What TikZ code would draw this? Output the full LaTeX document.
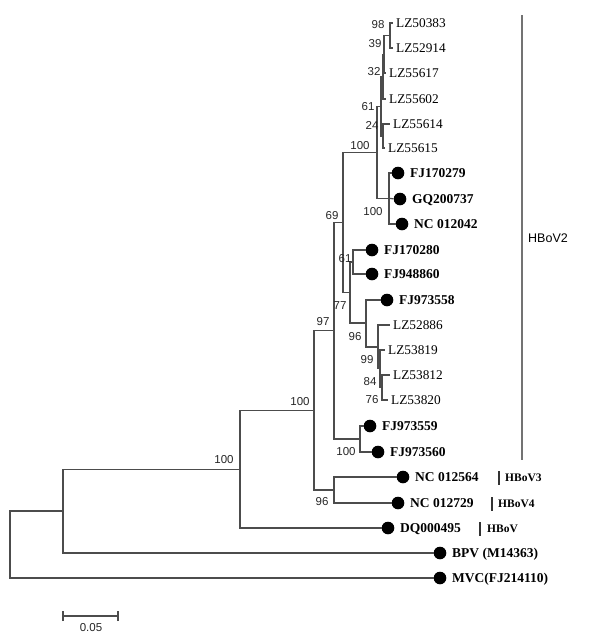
\documentclass[tikz,border=0pt]{standalone}
\usepackage{fontspec}
\setmainfont{Liberation Serif}
\setsansfont{Liberation Sans}
\begin{document}
\begin{tikzpicture}[x=1pt,y=-1pt,
  br/.style={draw=black!70, line width=1.25pt},
  bs/.style={font=\sffamily\fontsize{11.5}{13}\selectfont, inner sep=0pt, text=black!85},
  lz/.style={font=\fontsize{13.3}{15}\selectfont, anchor=west, inner ysep=0pt, inner xsep=3pt, text height=8.8pt, text depth=0pt},
  bl/.style={font=\bfseries\fontsize{13.5}{15}\selectfont, anchor=west, inner sep=0pt, text height=9pt, text depth=0pt},
  dotleaf/.style={circle, fill=black, inner sep=0pt, minimum size=12.6pt},
  grpbar/.style={draw=black!55, line width=1.8pt},
  smallbar/.style={draw=black!80, line width=1.1pt},
  grptext/.style={font=\bfseries\fontsize{11.5}{13}\selectfont, anchor=west, inner sep=0pt},
]
\useasboundingbox (0,0) rectangle (600,638);

% internal nodes
\coordinate (n98) at (390,35.5);
\coordinate (n39) at (384,54.2);
\coordinate (n32) at (383,76.6);
\coordinate (n2x) at (383,136);
\coordinate (n61) at (381,106.3);
\coordinate (nFJ) at (389,198.5);
\coordinate (nX) at (377,152.4);
\coordinate (n61b) at (353,262);
\coordinate (n76) at (382,387.5);
\coordinate (n84) at (380,368.7);
\coordinate (n99) at (378,346.9);
\coordinate (n96a) at (366,323);
\coordinate (n77) at (350,292.5);
\coordinate (n69) at (343,222.5);
\coordinate (n100c) at (360,439);
\coordinate (n97) at (334,330.7);
\coordinate (n96b) at (334,490);
\coordinate (n100b) at (314,410.4);
\coordinate (n100a) at (240,469.2);
\coordinate (nB) at (63,511);
\coordinate (root) at (10,544.5);

% LZ leaves (no dot)
\node[lz] (l50383) at (393,23) {LZ50383};
\node[lz] (l52914) at (393,48) {LZ52914};
\node[lz] (l55617) at (386,73) {LZ55617};
\node[lz] (l55602) at (386,99) {LZ55602};
\node[lz] (l55614) at (390,124) {LZ55614};
\node[lz] (l55615) at (385,148) {LZ55615};
\node[lz] (l52886) at (390,325) {LZ52886};
\node[lz] (l53819) at (385,350) {LZ53819};
\node[lz] (l53812) at (390,375) {LZ53812};
\node[lz] (l53820) at (388,400) {LZ53820};

% dotted leaves
\node[dotleaf] (d1) at (398,173) {};  \node[bl] (t1) at (410,173) {FJ170279};
\node[dotleaf] (d2) at (400,199) {};  \node[bl] (t2) at (412,199) {GQ200737};
\node[dotleaf] (d3) at (402,224) {};  \node[bl] (t3) at (414,224) {NC 012042};
\node[dotleaf] (d4) at (372,250) {};  \node[bl] (t4) at (384,250) {FJ170280};
\node[dotleaf] (d5) at (372,274) {};  \node[bl] (t5) at (384,274) {FJ948860};
\node[dotleaf] (d6) at (387,300) {};  \node[bl] (t6) at (399,300) {FJ973558};
\node[dotleaf] (d7) at (370,426) {};  \node[bl] (t7) at (382,426) {FJ973559};
\node[dotleaf] (d8) at (378,452) {};  \node[bl] (t8) at (390,452) {FJ973560};
\node[dotleaf] (d9) at (403,477) {};  \node[bl] (t9) at (415,477) {NC 012564};
\node[dotleaf] (d10) at (398,503) {}; \node[bl] (t10) at (410,503) {NC 012729};
\node[dotleaf] (d11) at (388,528) {}; \node[bl] (t11) at (400,528) {DQ000495};
\node[dotleaf] (d12) at (440,553) {}; \node[bl] (t12) at (452,553) {BPV (M14363)};
\node[dotleaf] (d13) at (440,578) {}; \node[bl] (t13) at (452,578) {MVC(FJ214110)};

% branches
\draw[br] (n98) |- (l50383);
\draw[br] (n98) |- (l52914);
\draw[br] (n39) |- (n98);
\draw[br] (n39) |- (l55617);
\draw[br] (n32) |- (n39);
\draw[br] (n32) |- (l55602);
\draw[br] (n2x) |- (l55614);
\draw[br] (n2x) |- (l55615);
\draw[br] (n61) |- (n32);
\draw[br] (n61) |- (n2x);
\draw[br] (nFJ) |- (d1);
\draw[br] (nFJ) -- (d2);
\draw[br] (nFJ) |- (d3);
\draw[br] (nX) |- (n61);
\draw[br] (nX) |- (nFJ);
\draw[br] (n61b) |- (d4);
\draw[br] (n61b) |- (d5);
\draw[br] (n76) |- (l53812);
\draw[br] (n76) |- (l53820);
\draw[br] (n84) |- (l53819);
\draw[br] (n84) |- (n76);
\draw[br] (n99) |- (l52886);
\draw[br] (n99) |- (n84);
\draw[br] (n96a) |- (d6);
\draw[br] (n96a) |- (n99);
\draw[br] (n77) |- (n61b);
\draw[br] (n77) |- (n96a);
\draw[br] (n69) |- (nX);
\draw[br] (n69) |- (n77);
\draw[br] (n100c) |- (d7);
\draw[br] (n100c) |- (d8);
\draw[br] (n97) |- (n69);
\draw[br] (n97) |- (n100c);
\draw[br] (n96b) |- (d9);
\draw[br] (n96b) |- (d10);
\draw[br] (n100b) |- (n97);
\draw[br] (n100b) |- (n96b);
\draw[br] (n100a) |- (n100b);
\draw[br] (n100a) |- (d11);
\draw[br] (nB) |- (n100a);
\draw[br] (nB) |- (d12);
\draw[br] (root) |- (nB);
\draw[br] (root) |- (d13);

% bootstrap values
\node[bs] (b98) at (378,25) {98};
\node[bs] (b39) at (375,44) {39};
\node[bs] (b32) at (374,72) {32};
\node[bs] (b61t) at (368,107) {61};
\node[bs] (b24) at (372,125) {24};
\node[bs] (b100x) at (360,146) {100};
\node[bs] (b100fj) at (373,212) {100};
\node[bs] (b69) at (332,216) {69};
\node[bs] (b61) at (345,259) {61};
\node[bs] (b77) at (340,306) {77};
\node[bs] (b96a) at (355,337) {96};
\node[bs] (b99) at (367,360) {99};
\node[bs] (b84) at (370,382) {84};
\node[bs] (b76) at (372,400) {76};
\node[bs] (b97) at (323,322) {97};
\node[bs] (b100b) at (300,402) {100};
\node[bs] (b100c) at (346,452) {100};
\node[bs] (b96b) at (322,502) {96};
\node[bs] (b100a) at (224,460) {100};

% groups
\coordinate (g2a) at (522,15);
\coordinate (g2b) at (522,460);
\draw[grpbar] (g2a) -- (g2b);
\node[font=\sffamily\fontsize{12.5}{14}\selectfont, anchor=west, inner sep=0pt] (h2) at (528,238) {HBoV2};

\coordinate (g3a) at (499,471);
\coordinate (g3b) at (499,485);
\draw[smallbar] (g3a) -- (g3b);
\node[grptext] (h3) at (505,478) {HBoV3};
\coordinate (g4a) at (492,497);
\coordinate (g4b) at (492,511);
\draw[smallbar] (g4a) -- (g4b);
\node[grptext] (h4) at (498,504) {HBoV4};
\coordinate (g1a) at (480,522);
\coordinate (g1b) at (480,536);
\draw[smallbar] (g1a) -- (g1b);
\node[grptext] (h1) at (487,529) {HBoV};

% scale bar
\coordinate (sa) at (63,616);
\coordinate (sb) at (118,616);
\draw[br] (sa) -- (sb);
\draw[br] ([yshift=-5pt]sa) -- ([yshift=5pt]sa);
\draw[br] ([yshift=-5pt]sb) -- ([yshift=5pt]sb);
\node[bs] (sl) at (91,628) {0.05};
\end{tikzpicture}
\end{document}
